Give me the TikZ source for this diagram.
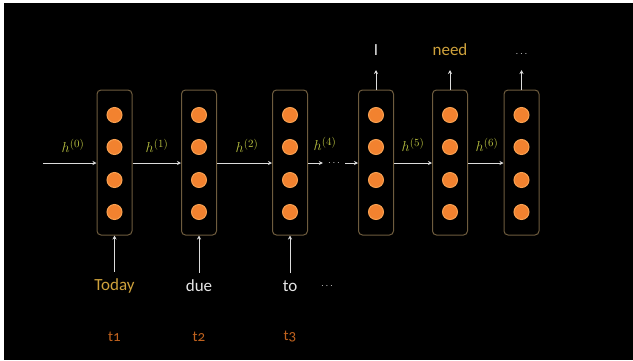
\documentclass[tikz,border=0pt]{standalone}
\usepackage{fontspec}
\setmainfont[Numbers=OldStyle]{Carlito}
\usetikzlibrary{arrows.meta}
\definecolor{boxc}{HTML}{6E5C3E}
\definecolor{dotc}{HTML}{F2822F}
\definecolor{dotin}{HTML}{F8A050}
\definecolor{hlab}{HTML}{B8C040}
\definecolor{gold}{HTML}{CFA23C}
\definecolor{tcol}{HTML}{C0621E}
\definecolor{wtxt}{HTML}{E6E6E6}
\definecolor{arrc}{HTML}{DCDCDC}
\tikzset{
  cell/.style={draw=boxc, line width=1pt, rounded corners=4pt, minimum width=35pt, minimum height=145pt, inner sep=0pt},
  unit/.style={circle, fill=dotc, draw=dotin, line width=1pt, minimum size=15pt, inner sep=0pt},
  arr/.style={draw=arrc, line width=1pt, -{Stealth[length=4pt,width=4pt]}},
  hl/.style={text=hlab, font=\fontsize{15}{17}\selectfont, inner sep=1pt},
  word/.style={font=\fontsize{17}{19}\selectfont, inner sep=1pt},
  dots/.style={font=\fontsize{10}{12}\selectfont, inner sep=1pt},
  tl/.style={text=tcol, font=\fontsize{15}{17}\selectfont, inner sep=1pt},
}
\begin{document}
\begin{tikzpicture}[x=1pt,y=-1pt]
\fill[white] (0,0) rectangle (633,360);
\fill[black] (4,3) rectangle (633,360);
\useasboundingbox (0,0) rectangle (633,360);
% cells
\foreach \n/\x in {1/114.5,2/199,3/290,4/376,5/450,6/521.5}{
  \node[cell] (b\n) at (\x,162.5) {};
  \node[unit] (u\n a) at (\x,115) {};
  \node[unit] (u\n b) at (\x,147) {};
  \node[unit] (u\n c) at (\x,180) {};
  \node[unit] (u\n d) at (\x,212) {};
}
% start of chain
\coordinate (s0) at (43,163);
\draw[arr] (s0) -- (b1.west |- s0);
\draw[arr] (b1.east |- s0) -- (b2.west |- s0);
\draw[arr] (b2.east |- s0) -- (b3.west |- s0);
\node[dots, text=arrc, inner sep=0pt, minimum width=22pt] (dd) at (334,163) {$\cdots$};
\draw[arr] (b3.east |- s0) -- (dd.west);
\draw[arr] (dd.east) -- (b4.west |- s0);
\draw[arr] (b4.east |- s0) -- (b5.west |- s0);
\draw[arr] (b5.east |- s0) -- (b6.west |- s0);
% hidden-state labels
\node[hl] (h0) at (73,146) {$h^{(0)}$};
\node[hl] (h1) at (157,146) {$h^{(1)}$};
\node[hl] (h2) at (247,146) {$h^{(2)}$};
\node[hl] (h4) at (325,144) {$h^{(4)}$};
\node[hl] (h5) at (413,145) {$h^{(5)}$};
\node[hl] (h6) at (487,145) {$h^{(6)}$};
% inputs
\node[word, text=gold] (w1) at (114.5,286) {Today};
\node[word, text=wtxt] (w2) at (199,286) {due};
\node[word, text=wtxt] (w3) at (290,286) {to};
\node[dots, text=wtxt] (w4) at (327,286) {$\cdots$};
\draw[arr] (w1.north) ++(0,-6) coordinate (i1) (i1) -- (b1.south);
\draw[arr] (w2.north) ++(0,-6) coordinate (i2) (i2) -- (b2.south);
\draw[arr] (w3.north) ++(0,-6) coordinate (i3) (i3) -- (b3.south);
% time steps
\node[tl] (t1) at (114.5,337) {t1};
\node[tl] (t2) at (199,337) {t2};
\node[tl] (t3) at (290,337) {t3};
% outputs
\coordinate (o4) at (376,70);
\coordinate (o5) at (450,70);
\coordinate (o6) at (521.5,70);
\draw[arr] (b4.north) -- (o4);
\draw[arr] (b5.north) -- (o5);
\draw[arr] (b6.north) -- (o6);
\node[word, text=wtxt] (y4) at (376,50) {I};
\node[word, text=gold] (y5) at (450,50) {need};
\node[dots, text=wtxt] (y6) at (521.5,54) {$\cdots$};
\end{tikzpicture}
\end{document}
